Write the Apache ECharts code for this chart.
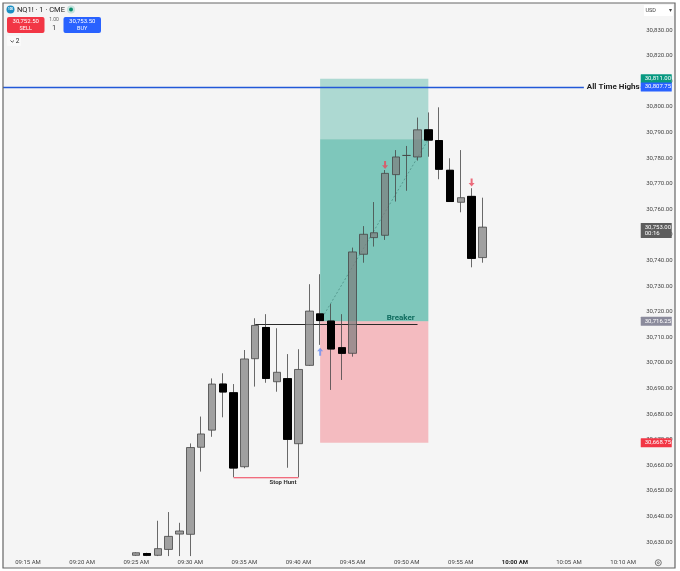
<!DOCTYPE html>
<html><head><meta charset="utf-8">
<style>html,body{margin:0;padding:0;background:#fff}#c{width:680px;height:571px}</style>
<script src="https://cdn.jsdelivr.net/npm/echarts@6/dist/echarts.min.js"></script>
</head><body><div id="c"></div>
<script>
const candleTimes=['09:25','09:26','09:27','09:28','09:29','09:30','09:31','09:32','09:33','09:34','09:35','09:36','09:37','09:38','09:39','09:40','09:41','09:42','09:43','09:44','09:45','09:46','09:47','09:48','09:49','09:50','09:51','09:52','09:53','09:54','09:55','09:56','09:57'];
const opens=[30624.8,30625.5,30624.8,30627.1,30633.1,30633,30667,30673.7,30691.7,30688.3,30659.4,30701.6,30713.8,30692.6,30693.8,30668.4,30699,30719.1,30716.3,30705.9,30703.7,30742.4,30748.9,30749.8,30773.5,30781,30780.4,30791,30786.8,30775.2,30762.7,30765,30741.1];
const closes=[30625.8,30624.8,30627.4,30632.2,30634.3,30666.9,30672.2,30691.7,30688.6,30658.9,30701.5,30714.6,30693.9,30696.3,30670.1,30697.4,30720.2,30716.5,30705.4,30703.7,30743.3,30750.2,30750.8,30774,30780.4,30781,30791,30787,30775.6,30763,30764.5,30740.8,30753];
const highs=[30626,30625.8,30638.3,30641.7,30637.5,30668.5,30679,30693.9,30695.9,30691.7,30705,30717.4,30719,30713.5,30703.4,30705.3,30730.7,30734.6,30723,30719,30745,30753.4,30762.8,30775.3,30783.1,30784.7,30795.8,30797.8,30799.8,30779.9,30783.1,30768.2,30764.5];
const lows=[30624.6,30624.5,30624.5,30624.5,30624.5,30624.5,30657.5,30671.1,30678.7,30655.3,30658.8,30690.7,30692.2,30688.7,30659,30655.3,30698.8,30707,30689.4,30693.3,30702.4,30739.1,30745.4,30748,30763,30767.2,30779,30780.5,30771.7,30763,30758.8,30737.3,30739.1];

const zoneStart='09:42', zoneEnd='09:52';
const zoneTops=[30811,30787.3,30716.25];
const zoneBottoms=[30787.3,30716.25,30668.75];
const zoneFills=['rgba(8,153,129,0.3)','rgba(8,153,129,0.5)','rgba(242,54,69,0.3)'];

const tagValues=[30811,30807.75,30753,30716.25,30668.75];
const tagLines=[['30,811.00'],['30,807.75'],['30,753.00','00:16'],['30,716.25'],['30,668.75']];
const tagFills=['#089981','#2962ff','#5d5d5d','#8b8b9c','#f23645'];

const noteTimes=['09:50','09:39','10:09'];
const noteValues=[30717.5,30653.2,30807.75];
const noteTexts=['Breaker','Stop Hunt','All Time Highs'];
const noteColors=['#0f6b5e','#333333','#222222'];

const arrowTimes=['09:48','09:56','09:42'];
const arrowValues=[30777.3,30770.4,30704.3];
const arrowDirs=['down','down','up'];

const allTimeHigh=30807.75;
const breakerLevel=30714.9, stopHuntLevel=30655.1;

// axis categories 09:13 .. 10:12
const times=[];
for(let m=13;m<73;m++){const h=m<60?9:10,mm=m%60;times.push(String(h).padStart(2,'0')+':'+String(mm).padStart(2,'0'));}
const font='Roboto, "Open Sans", sans-serif';
const idx=t=>times.indexOf(t);
const pick=(test,row)=>times.map(t=>{const i=candleTimes.indexOf(t);return i>=0&&test(i)?row(i):['-','-','-','-'];});
const isUp=i=>closes[i]>=opens[i];
const ohlc=i=>[opens[i],closes[i],lows[i],highs[i]];
const bodyOnly=i=>[opens[i],closes[i],closes[i],opens[i]];
const candle=(name,data,z,fill,border)=>({type:'candlestick',name,z,data,barWidth:8,silent:true,clip:false,
  itemStyle:{color:fill,color0:fill,borderColor:border,borderColor0:border,borderWidth:1}});
const ARROW_DOWN='path://M2,0 H4 V5 H6 L3,9 L0,5 H2 Z';
const ARROW_UP='path://M3,0 L6,4 H4 V9 H2 V4 H0 Z';
const txt=(x,y,text,fill,size,weight,align)=>({type:'text',z:102,silent:true,style:{x,y,text,fill,font:(weight||'normal')+' '+size+'px '+font,align:align||'center',verticalAlign:'middle'}});
const seg=(t1,v1,t2,v2,style)=>[{coord:[idx(t1),v1],lineStyle:style},{coord:[idx(t2),v2],lineStyle:style}];

const option={
  animation:false,backgroundColor:'#f5f5f5',
  grid:{left:0.95,top:4.4,width:649.2,bottom:3.4},
  xAxis:{type:'category',data:times,axisLine:{show:false},axisTick:{show:false},splitLine:{show:false},
    axisLabel:{inside:true,margin:2,fontSize:6,color:'#444',fontFamily:font,hideOverlap:false,
      interval:(i,v)=>+v.slice(3)%5===0,
      formatter:v=>v==='10:00'?'{b|10:00 AM}':v+' AM',
      rich:{b:{fontSize:6,fontWeight:'bold',color:'#222',fontFamily:font}}}},
  yAxis:{type:'value',position:'right',offset:-4,min:30620,max:30840,interval:10,axisLine:{show:false},axisTick:{show:false},splitLine:{show:false},
    axisLabel:{margin:0,fontSize:6,color:'#444',fontFamily:font,showMinLabel:false,showMaxLabel:false,
      formatter:v=>Number(v).toLocaleString('en-US',{minimumFractionDigits:2,maximumFractionDigits:2})}},
  graphic:{elements:[
    {type:'rect',z:100,silent:true,shape:{x:0,y:0,width:678,height:571},style:{fill:'none',stroke:'#fff',lineWidth:6}},
    {type:'rect',z:101,silent:true,shape:{x:3,y:3,width:672,height:565},style:{fill:'none',stroke:'#666',lineWidth:1.2}},
    {type:'circle',z:102,silent:true,shape:{cx:10.5,cy:9.5,r:4},style:{fill:'#1b8fc4'}},
    txt(10.5,9.6,'100','#fff',3,'bold'),
    txt(17,9.8,'NQ1! · 1 · CME','#222',7.5,'normal','left'),
    {type:'circle',z:102,silent:true,shape:{cx:71,cy:9.5,r:4},style:{fill:'rgba(8,153,129,0.2)'}},
    {type:'circle',z:102,silent:true,shape:{cx:71,cy:9.5,r:2},style:{fill:'#0b8f6e'}},
    {type:'rect',z:102,silent:true,shape:{x:7,y:17,width:37.5,height:16,r:2},style:{fill:'#f23645'}},
    txt(25.7,21.7,'30,752.50','#fff',6),txt(25.7,28.5,'SELL','#fff',5.5),
    {type:'rect',z:102,silent:true,shape:{x:63.5,y:17,width:37.5,height:16,r:2},style:{fill:'#2962ff'}},
    txt(82.2,21.7,'30,753.50','#fff',6),txt(82.2,28.5,'BUY','#fff',5.5),
    txt(54,19.5,'1.00','#666',5),txt(54,28,'1','#222',6.5),
    {type:'rect',z:102,silent:true,shape:{x:7,y:36,width:14,height:10,r:1},style:{fill:'#fafafa'}},
    {type:'polyline',z:102,silent:true,shape:{points:[[10.5,40.5],[12.2,42.2],[14,40.5]]},style:{fill:'none',stroke:'#333',lineWidth:0.8}},
    txt(17.5,41.5,'2','#222',6.5),
    {type:'rect',z:102,silent:true,shape:{x:644,y:5,width:29,height:11},style:{fill:'#fff'}},
    txt(645.5,10.5,'USD','#444',5.5,'normal','left'),txt(670,10.5,'▾','#444',5.5),
    {type:'circle',z:102,silent:true,shape:{cx:658.3,cy:562.7,r:3},style:{fill:'none',stroke:'#555',lineWidth:0.8}},
    {type:'circle',z:102,silent:true,shape:{cx:658.3,cy:562.7,r:1},style:{fill:'none',stroke:'#555',lineWidth:0.7}}
  ]},
  series:[
    {type:'custom',name:'zones',z:2,silent:true,clip:false,
      data:zoneTops.map((v,i)=>[idx(zoneStart),v]),encode:{x:0,y:1},
      renderItem:(p,api)=>{const i=p.dataIndex,a=api.coord([idx(zoneStart),zoneTops[i]]),b=api.coord([idx(zoneEnd),zoneBottoms[i]]);
        return {type:'rect',shape:{x:a[0],y:a[1],width:b[0]-a[0],height:b[1]-a[1]},style:{fill:zoneFills[i]}};}},
    {type:'line',name:'levels',z:3,data:[],silent:true,
      markLine:{silent:true,symbol:'none',z:3,animation:false,label:{show:false},data:[
        seg('09:36',breakerLevel,'09:51',breakerLevel,{color:'#2a2a2a',width:1.2,type:'solid'}),
        seg('09:42',30716.25,'09:52',30787.3,{color:'#4d8f85',width:0.8,type:[2,2]}),
        {yAxis:allTimeHigh,lineStyle:{color:'#2258d8',width:1.3,type:'solid'}}
      ]}},
    candle('up',pick(isUp,ohlc),4,'rgba(125,125,125,0.71)','rgba(70,70,70,0.8)'),
    candle('down wicks',pick(i=>!isUp(i),ohlc),4,'#666','rgba(70,70,70,0.8)'),
    candle('down bodies',pick(i=>!isUp(i),bodyOnly),5,'#000','#000'),
    {type:'line',name:'stop hunt',z:6,silent:true,symbol:'none',clip:false,
      data:times.map(t=>t>='09:34'&&t<='09:40'?stopHuntLevel:null),
      lineStyle:{color:'#ef3f56',width:1.2}},
    {type:'scatter',name:'arrows',z:6,silent:true,clip:false,
      data:arrowTimes.map((t,i)=>({value:[idx(t),arrowValues[i]],symbol:arrowDirs[i]==='up'?ARROW_UP:ARROW_DOWN,
        symbolSize:[6,8],itemStyle:{color:arrowDirs[i]==='up'?'#6a8ff0':'#e8495c'}}))},
    {type:'custom',name:'notes',z:7,silent:true,clip:false,
      data:noteTexts.map((t,i)=>[idx(noteTimes[i]),noteValues[i]]),encode:{x:0,y:1},
      renderItem:(p,api)=>{const i=p.dataIndex,c=api.coord([idx(noteTimes[i]),noteValues[i]]);
        const dx=[-6,-4.7,0][i],size=[8,6,8][i];
        return {type:'text',style:{x:c[0]+dx,y:c[1],text:noteTexts[i],fill:noteColors[i],font:'bold '+size+'px '+font,align:'center',verticalAlign:'middle',
          backgroundColor:i===2?'#f5f5f5':undefined,padding:i===2?[1,1,1,3]:0}};}},
    {type:'custom',name:'price tags',z:10,silent:true,clip:false,
      data:tagValues.map(v=>[idx('10:12'),v]),encode:{x:0,y:1},
      renderItem:(p,api)=>{const i=p.dataIndex,c=api.coord([idx('10:12'),tagValues[i]]),two=tagLines[i].length>1;
        const x=c[0]-4,w=31,h=two?15:9,y=two?c[1]-4:c[1]-h/2;
        const kids=[{type:'rect',shape:{x,y,width:w,height:h,r:0.5},style:{fill:tagFills[i]}}];
        tagLines[i].forEach((s,k)=>kids.push({type:'text',style:{x:x+4,y:y+4.5+k*6,text:s,fill:'#fff',font:'6px '+font,align:'left',verticalAlign:'middle'}}));
        return {type:'group',children:kids};}}
  ]
};
const chart=echarts.init(document.getElementById('c'),null,{renderer:'canvas'});
chart.setOption(option);
</script></body></html>
